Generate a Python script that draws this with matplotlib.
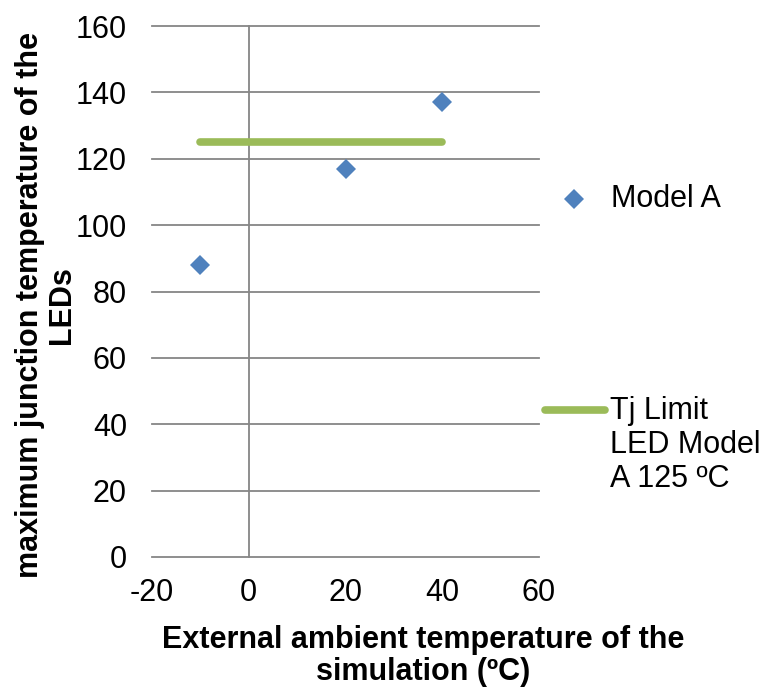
import matplotlib
matplotlib.use("Agg")
import matplotlib.pyplot as plt
from matplotlib.lines import Line2D

plt.rcParams['font.family'] = ['Liberation Sans', 'DejaVu Sans']
plt.rcParams['axes.unicode_minus'] = False

# Simulated maximum junction temperature vs external ambient temperature
ambient = [-10, 20, 40]
junction = [88, 117, 137]

# Tj limit of the LED model (125 ºC), drawn over the simulated range
limit_x = [-10, 40]
limit_y = [125, 125]

x_ticks = [-20, 0, 20, 40, 60]
y_ticks = [0, 20, 40, 60, 80, 100, 120, 140, 160]

blue = '#4F81BD'
green = '#9BBB59'
grid_gray = '#868686'

fig = plt.figure(figsize=(7.64, 6.89), dpi=100)
ax = fig.add_axes([152/764, 1 - 557/689, 387/764, 531/689])

ax.set_xlim(-20, 60)
ax.set_ylim(0, 160)
ax.set_xticks(x_ticks)
ax.set_yticks(y_ticks)
ax.tick_params(axis='both', length=0, labelsize=22)
ax.tick_params(axis='y', pad=18)
ax.tick_params(axis='x', pad=15)

for s in ax.spines.values():
    s.set_visible(False)

# horizontal gridlines, vertical axis crossing at x = 0
ax.yaxis.grid(True, color=grid_gray, linewidth=1.3)
for gl in ax.get_ygridlines():
    gl.set_clip_on(False)
ax.axvline(0, color=grid_gray, linewidth=1.3, clip_on=False)
ax.set_axisbelow(True)

ax.plot(limit_x, limit_y, color=green, linewidth=5.5, solid_capstyle='round', zorder=3)
ax.plot(ambient, junction, linestyle='none', marker='D', markersize=10.5,
        markerfacecolor=blue, markeredgewidth=0, zorder=4)

# axis titles
fig.text(423/764, 1 - 656/689, 'External ambient temperature of the\nsimulation (ºC)',
         ha='center', va='center', fontsize=22, fontweight='bold', linespacing=1.1)
fig.text(46/764, 1 - 305/689, 'maximum junction temperature of the\nLEDs',
         ha='center', va='center', rotation=90, fontsize=22, fontweight='bold',
         linespacing=1.05, multialignment='center')

# legend entries to the right of the plot
fig.add_artist(Line2D([574/764], [1 - 199/689], marker='D', markersize=10.5,
                      markerfacecolor=blue, markeredgewidth=0, linestyle='none',
                      transform=fig.transFigure))
fig.text(611/764, 1 - 199/689, 'Model A', ha='left', va='center', fontsize=22)

fig.add_artist(Line2D([545/764, 605/764], [1 - 410/689, 1 - 410/689], color=green,
                      linewidth=5.5, solid_capstyle='round', transform=fig.transFigure))
fig.text(610/764, 1 - 396/689, 'Tj Limit\nLED Model\nA 125 ºC', ha='left', va='top',
         fontsize=22, linespacing=1.17)

fig.savefig('out.png', dpi=100)
